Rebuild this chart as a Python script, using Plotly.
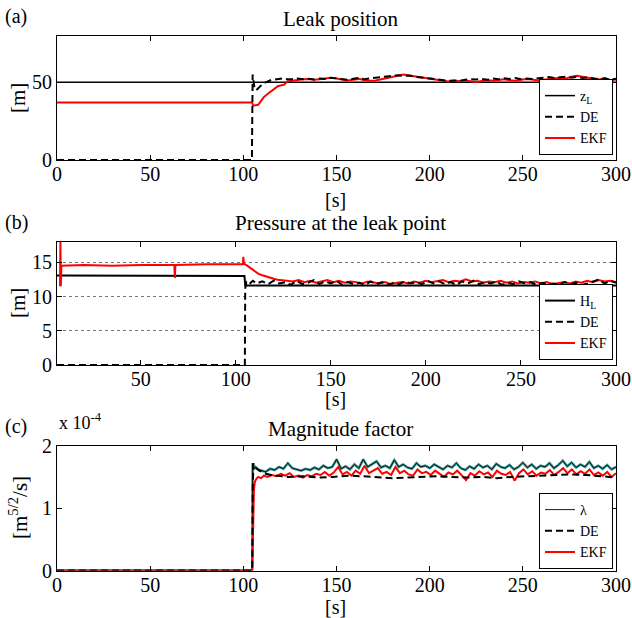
import numpy as np
import plotly.graph_objects as go

# ---------------- data ----------------
# Panel (a) Leak position [m]
a_zl_t = [0, 300]
a_zl = [50, 50]

a_de_head_t = [0, 104.6, 105.0, 105.4, 106.0, 107.0, 108.5, 110.0, 112.0, 115.0, 118.0, 121.0, 123.5]
a_de_head = [0, 0, 55, 49, 46, 45, 47, 48.5, 50, 51.5, 52, 52.5, 52]
a_de_noise = [52.0, 52.5, 52.0, 52.3, 51.8, 52.5, 52.2, 53.0, 52.4, 52.0,
              51.6, 52.3, 52.8, 52.0, 52.6, 53.0, 53.4, 53.8, 54.2, 54.6,
              54.0, 54.4, 53.6, 53.2, 52.8, 52.4, 51.8, 51.4, 51.0, 51.2,
              51.0, 51.6, 52.0, 51.8, 52.2, 51.6, 52.4, 52.0, 52.6, 52.2,
              52.8, 52.0, 52.4, 52.2, 52.8, 53.0, 53.4, 52.8, 53.2, 53.6,
              53.0, 53.4, 52.8, 53.2, 52.4, 52.0, 52.6, 51.8, 52.3]

a_ekf_head_t = [0, 104.8, 105.2, 108.0, 109.5, 111.0, 113.0, 115.0, 117.0, 118.5, 120.0, 122.0, 123.5]
a_ekf_head = [37, 37, 35, 35.5, 38, 40.5, 42.5, 44.5, 46, 47.5, 48, 48.5, 50.5]
a_ekf_noise = [51.0, 51.5, 52.0, 52.2, 51.6, 52.0, 52.6, 53.0, 52.4, 51.8,
               51.2, 51.6, 52.2, 51.4, 51.0, 51.2, 52.0, 53.0, 53.6, 54.2,
               55.0, 54.4, 53.8, 53.2, 53.0, 52.4, 51.6, 51.0, 50.6, 51.0,
               50.8, 51.2, 50.6, 50.2, 50.8, 51.4, 51.0, 51.6, 52.0, 51.4,
               51.0, 51.6, 52.2, 51.8, 51.2, 51.6, 52.0, 52.6, 53.0, 52.4,
               53.6, 54.2, 53.4, 53.0, 52.4, 51.8, 52.6, 51.4, 51.8]

# Panel (b) Pressure at the leak point [m]
b_hl_t = [6, 104.6, 105.0, 300]
b_hl = [13.05, 13.0, 11.6, 11.6]

b_de_head_t = [6, 104.8, 105.0, 105.6, 107, 109]
b_de_head = [0, 0, 11.2, 12.1, 11.8, 12.3]
b_de_noise = [11.9, 12.2, 11.8, 12.3, 11.9, 12.1, 11.7, 12.3, 11.8, 12.0,
              12.4, 11.8, 12.2, 11.9, 12.3, 11.7, 12.1, 11.8, 12.0, 11.7,
              12.2, 11.8, 12.1, 11.7, 12.0, 11.8, 12.2, 11.9, 12.1, 11.8,
              12.3, 11.9, 12.2, 11.8, 12.1, 11.7, 12.2, 11.9, 12.3, 11.8,
              12.1, 11.9, 12.2, 11.7, 12.0, 11.8, 12.2, 11.9, 12.1, 11.7,
              12.0, 11.8, 11.9, 11.7, 12.1, 11.8, 12.0, 11.7, 11.9, 12.2,
              12.5, 11.9, 12.3, 12.0]

b_ekf_head_t = [7.6, 7.8, 8.0, 8.3, 20, 35, 50, 67.7, 68.0, 68.3, 85, 103.8, 104.0, 104.3,
                106, 108, 110, 112, 114, 116, 118, 120, 122, 124]
b_ekf_head = [11.5, 18, 11.5, 14.5, 14.6, 14.5, 14.6, 14.6, 12.7, 14.6, 14.7, 14.7, 15.8, 14.8,
              14.5, 14.1, 13.6, 13.3, 13.1, 12.9, 12.7, 12.6, 12.45, 12.35]
b_ekf_noise = [12.3, 12.2, 12.4, 12.1, 12.3, 12.0, 12.2, 12.4, 12.1, 12.3,
               12.0, 12.2, 12.1, 11.9, 12.2, 12.0, 11.9, 12.1, 11.8, 12.0,
               12.1, 11.9, 12.2, 12.0, 12.3, 12.1, 12.2, 12.4, 12.1, 12.3,
               12.2, 12.5, 12.2, 12.3, 12.0, 12.2, 12.1, 12.3, 12.0, 12.2,
               11.9, 12.1, 12.0, 12.2, 11.9, 12.1, 11.8, 12.0, 12.1, 11.9,
               12.2, 12.0, 12.3, 12.1, 12.4, 12.2, 12.3, 12.1]

# Panel (c) Magnitude factor [x 1e-4 m^(5/2)/s]
c_lam_head_t = [0, 104.8, 105.0, 105.5, 106.5, 108, 110]
c_lam_head = [0, 0, 1.72, 1.62, 1.66, 1.62, 1.60]
c_lam_noise = [1.58, 1.63, 1.61, 1.66, 1.63, 1.72, 1.64, 1.62, 1.60, 1.63,
               1.61, 1.65, 1.62, 1.68, 1.64, 1.66, 1.78, 1.63, 1.67, 1.62,
               1.70, 1.64, 1.78, 1.66, 1.70, 1.75, 1.65, 1.68, 1.64, 1.77,
               1.66, 1.70, 1.65, 1.63, 1.72, 1.66, 1.68, 1.64, 1.70, 1.66,
               1.62, 1.68, 1.65, 1.72, 1.64, 1.61, 1.67, 1.63, 1.70, 1.65,
               1.68, 1.62, 1.71, 1.66, 1.64, 1.69, 1.62, 1.66, 1.73, 1.65,
               1.70, 1.63, 1.68, 1.66, 1.72, 1.64, 1.69, 1.76, 1.67, 1.73,
               1.65, 1.70, 1.66, 1.74, 1.64, 1.68, 1.63, 1.69, 1.62, 1.66]

c_de_head_t = [0, 104.8, 105.0, 105.4, 106, 107, 108.5, 110, 112, 115, 118, 121]
c_de_head = [0, 0, 1.25, 1.72, 1.66, 1.63, 1.60, 1.58, 1.55, 1.53, 1.52, 1.51]
c_de_noise = [1.50, 1.51, 1.49, 1.50, 1.52, 1.51, 1.50, 1.48, 1.49, 1.50,
              1.51, 1.50, 1.49, 1.50, 1.48, 1.50, 1.51, 1.52, 1.53, 1.54,
              1.53, 1.51, 1.49]

c_ekf_head_t = [0, 104.6, 105.0, 105.3, 105.7, 106.2, 107, 108, 109.5, 111]
c_ekf_head = [0, 0, 0.3, 1.0, 1.3, 1.42, 1.47, 1.50, 1.48, 1.52]
c_ekf_noise = [1.50, 1.53, 1.51, 1.55, 1.52, 1.56, 1.50, 1.52, 1.49, 1.53,
               1.51, 1.55, 1.53, 1.58, 1.52, 1.57, 1.66, 1.54, 1.58, 1.52,
               1.60, 1.55, 1.68, 1.56, 1.60, 1.64, 1.55, 1.58, 1.53, 1.66,
               1.56, 1.60, 1.54, 1.52, 1.62, 1.56, 1.58, 1.53, 1.60, 1.55,
               1.50, 1.57, 1.54, 1.60, 1.53, 1.45, 1.56, 1.52, 1.59, 1.54,
               1.57, 1.50, 1.60, 1.55, 1.53, 1.58, 1.44, 1.56, 1.62, 1.54,
               1.59, 1.52, 1.57, 1.55, 1.61, 1.53, 1.58, 1.64, 1.56, 1.62,
               1.54, 1.59, 1.55, 1.62, 1.53, 1.57, 1.52, 1.58, 1.50, 1.56]

x_ticks = [0, 50, 100, 150, 200, 250, 300]


def series(head_t, head, noise, t0, t1):
    t = list(head_t) + list(np.linspace(t0, t1, len(noise)))
    return t, list(head) + list(noise)


# ---------------- figure ----------------
W, H = 632, 618
FONT = "Liberation Serif, Times New Roman, serif"
fig = go.Figure()

def px_x(p):
    return p / W

def px_y(p):
    return 1 - p / H

dom_x = [px_x(57), px_x(616)]
dom_a = [px_y(160), px_y(35.7)]
dom_b = [px_y(365), px_y(241.7)]
dom_c = [px_y(570.5), px_y(445.7)]

DASH = "7px,4px"

# (a)
fig.add_trace(go.Scatter(x=a_zl_t, y=a_zl, mode="lines", name="z<sub>L</sub>",
                         line=dict(color="black", width=1.5), xaxis="x", yaxis="y",
                         legend="legend", legendrank=1))
t, v = series(a_ekf_head_t, a_ekf_head, a_ekf_noise, 126, 300)
fig.add_trace(go.Scatter(x=t, y=v, mode="lines", name="EKF",
                         line=dict(color="#ff0000", width=2), xaxis="x", yaxis="y",
                         legend="legend", legendrank=3))
t, v = series(a_de_head_t, a_de_head, a_de_noise, 126, 300)
fig.add_trace(go.Scatter(x=t, y=v, mode="lines", name="DE",
                         line=dict(color="black", width=2, dash=DASH), xaxis="x", yaxis="y",
                         legend="legend", legendrank=2))

# (b)
fig.add_trace(go.Scatter(x=b_hl_t, y=b_hl, mode="lines", name="H<sub>L</sub>",
                         line=dict(color="black", width=2), xaxis="x2", yaxis="y2",
                         legend="legend2", legendrank=1))
t, v = series(b_ekf_head_t, b_ekf_head, b_ekf_noise, 127, 300)
fig.add_trace(go.Scatter(x=t, y=v, mode="lines", name="EKF",
                         line=dict(color="#ff0000", width=2), xaxis="x2", yaxis="y2",
                         legend="legend2", legendrank=3))
t, v = series(b_de_head_t, b_de_head, b_de_noise, 111, 300)
fig.add_trace(go.Scatter(x=t, y=v, mode="lines", name="DE",
                         line=dict(color="black", width=2, dash=DASH), xaxis="x2", yaxis="y2",
                         legend="legend2", legendrank=2))

# (c)
t, v = series(c_lam_head_t, c_lam_head, c_lam_noise, 112, 300)
fig.add_trace(go.Scatter(x=t, y=v, mode="lines", showlegend=False, hoverinfo="skip",
                         line=dict(color="#3a9a96", width=2.6), xaxis="x3", yaxis="y3"))
fig.add_trace(go.Scatter(x=t, y=v, mode="lines", name="λ",
                         line=dict(color="black", width=0.9), xaxis="x3", yaxis="y3",
                         legend="legend3", legendrank=1))
t, v = series(c_ekf_head_t, c_ekf_head, c_ekf_noise, 113, 300)
fig.add_trace(go.Scatter(x=t, y=v, mode="lines", name="EKF",
                         line=dict(color="#ff0000", width=2), xaxis="x3", yaxis="y3",
                         legend="legend3", legendrank=3))
t, v = series(c_de_head_t, c_de_head, c_de_noise, 124, 300)
fig.add_trace(go.Scatter(x=t, y=v, mode="lines", name="DE",
                         line=dict(color="black", width=2, dash=DASH), xaxis="x3", yaxis="y3",
                         legend="legend3", legendrank=2))

tickfont = dict(family=FONT, size=20, color="black")
axis_common = dict(showline=True, linecolor="black", linewidth=1, mirror="ticks",
                   ticks="inside", ticklen=5, tickcolor="black", tickfont=tickfont,
                   zeroline=False, showgrid=False, automargin=False)
xaxis_common = dict(axis_common, ticklabelstandoff=-4)

fig.update_layout(
    width=W, height=H, margin=dict(l=0, r=0, t=0, b=0, autoexpand=False),
    paper_bgcolor="white", plot_bgcolor="white", showlegend=True,
    xaxis=dict(domain=dom_x, range=[0, 300], tickvals=x_ticks, anchor="y", **xaxis_common),
    yaxis=dict(domain=dom_a, range=[0, 80], tickvals=[0, 50], anchor="x", **axis_common),
    xaxis2=dict(domain=dom_x, range=[6, 300], tickvals=x_ticks[1:], anchor="y2", **xaxis_common),
    yaxis2=dict(domain=dom_b, range=[0, 18], tickvals=[0, 5, 10, 15], anchor="x2",
                **{**axis_common, "showgrid": True, "gridcolor": "#777777",
                   "griddash": "dot", "gridwidth": 1}),
    xaxis3=dict(domain=dom_x, range=[0, 300], tickvals=x_ticks, anchor="y3", **xaxis_common),
    yaxis3=dict(domain=dom_c, range=[0, 2], tickvals=[0, 1, 2], anchor="x3", **axis_common),
)

leg_common = dict(xanchor="right", yanchor="bottom", bordercolor="black", borderwidth=1,
                  bgcolor="white", font=dict(family=FONT, size=14, color="black"),
                  itemwidth=30, tracegroupgap=0)
fig.update_layout(
    legend=dict(x=px_x(613), y=px_y(155), **leg_common),
    legend2=dict(x=px_x(613), y=px_y(360), **leg_common),
    legend3=dict(x=px_x(613), y=px_y(569), **leg_common),
)

ann = []
def text(x, y, s, size=21, angle=0, xanchor="center"):
    ann.append(dict(x=px_x(x), y=px_y(y), xref="paper", yref="paper", text=s,
                    showarrow=False, textangle=angle, xanchor=xanchor, yanchor="middle",
                    font=dict(family=FONT, size=size, color="black")))

cx = 340
text(cx, 19, "Leak position")
text(cx, 223, "Pressure at the leak point")
text(cx, 429, "Magnitude factor")
text(3, 17, "(a)", size=20, xanchor="left")
text(3, 222, "(b)", size=20, xanchor="left")
text(3, 427, "(c)", size=20, xanchor="left")
text(57, 421, "x 10<sup>-4</sup>", size=18, xanchor="left")
text(336, 200, "[s]", size=20)
text(336, 399, "[s]", size=20)
text(336, 607, "[s]", size=20)
text(18, 98, "[m]", angle=-90)
text(18, 303, "[m]", angle=-90)
text(18, 508, "[m<sup>5/2</sup>/s]", angle=-90)
fig.update_layout(annotations=ann)

fig.write_html("out.html", config={"displayModeBar": False, "staticPlot": True},
               post_script="document.body.style.margin='0';document.body.style.padding='0';document.body.style.overflow='hidden';")
